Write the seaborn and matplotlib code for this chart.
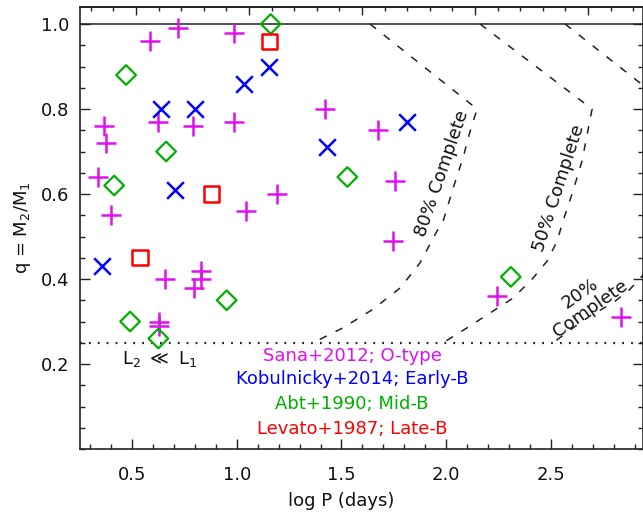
import numpy as np
import pandas as pd
import matplotlib
matplotlib.use("Agg")
import matplotlib.pyplot as plt
from matplotlib.ticker import MultipleLocator, NullFormatter, FormatStrFormatter
import seaborn as sns

# ---------------- data ----------------
sana_logp = [0.586, 0.718, 0.987, 1.421, 0.368, 0.376, 0.626, 0.790, 0.989, 0.338,
             0.400, 1.043, 1.191, 1.676, 1.756, 1.748, 2.240, 2.833, 0.658, 0.828,
             0.828, 0.796, 0.630, 0.630]
sana_q = [0.96, 0.99, 0.98, 0.80, 0.76, 0.72, 0.77, 0.76, 0.77, 0.64,
          0.55, 0.56, 0.60, 0.75, 0.63, 0.49, 0.36, 0.31, 0.40, 0.42,
          0.40, 0.38, 0.30, 0.29]

kob_logp = [0.639, 0.801, 1.036, 1.156, 1.430, 0.705, 0.356, 1.811]
kob_q = [0.80, 0.80, 0.86, 0.90, 0.71, 0.61, 0.43, 0.77]

abt_logp = [1.162, 0.472, 0.663, 0.415, 1.528, 0.491, 0.626, 0.952, 2.308]
abt_q = [1.00, 0.88, 0.70, 0.62, 0.64, 0.30, 0.26, 0.35, 0.405]

lev_logp = [1.156, 0.881, 0.538]
lev_q = [0.958, 0.60, 0.45]

c80_logp = [1.636, 2.147, 2.114, 2.080, 2.033, 1.985, 1.956, 1.875, 1.780, 1.651, 1.507, 1.364]
c80_q = [1.00, 0.80, 0.748, 0.685, 0.614, 0.536, 0.513, 0.438, 0.379, 0.329, 0.285, 0.25]

c50_logp = [2.161, 2.696, 2.648, 2.605, 2.557, 2.529, 2.481, 2.414, 2.319, 2.209, 2.099, 1.985]
c50_q = [1.00, 0.80, 0.678, 0.607, 0.536, 0.489, 0.442, 0.402, 0.355, 0.320, 0.285, 0.25]

c20_logp = [2.567, 3.083, 3.060, 3.020, 2.980, 2.940, 2.877, 2.796, 2.686, 2.605, 2.510]
c20_q = [1.00, 0.80, 0.70, 0.60, 0.50, 0.41, 0.376, 0.344, 0.313, 0.285, 0.25]

Q_MAX = 1.0
Q_LUM = 0.25

legend_labels = ["Sana+2012; O-type", "Kobulnicky+2014; Early-B",
                 "Abt+1990; Mid-B", "Levato+1987; Late-B"]
xtick_vals = [0.5, 1.0, 1.5, 2.0, 2.5]
ytick_vals = [0.2, 0.4, 0.6, 0.8, 1.0]

MAG = '#e010f0'
BLUE = '#0000ff'
GREEN = '#00b000'
RED = '#ff0000'
INK = '#111111'

# ---------------- style ----------------
sns.set_style("ticks")
plt.rcParams['font.family'] = ['DejaVu Sans']
plt.rcParams['mathtext.default'] = 'regular'
plt.rcParams['axes.edgecolor'] = '#222222'
plt.rcParams['text.color'] = INK
plt.rcParams['axes.labelcolor'] = INK
plt.rcParams['xtick.labelcolor'] = INK
plt.rcParams['ytick.labelcolor'] = INK

fig = plt.figure(figsize=(6.43, 5.14), dpi=100)
ax = fig.add_axes([80/643, 65/514, 563/643, 442/514])

# reference lines
ax.axhline(Q_MAX, color='#222222', lw=1.1, zorder=1)
ax.axhline(Q_LUM, color='#222222', lw=1.6, ls=(0, (0.8, 3.2)), zorder=1)

# completeness curves
for cx, cy in [(c80_logp, c80_q), (c50_logp, c50_q), (c20_logp, c20_q)]:
    sns.lineplot(x=cx, y=cy, sort=False, estimator=None, errorbar=None,
                 color='#222222', lw=1.1, linestyle=(0, (5.0, 6.5)),
                 legend=False, ax=ax, zorder=1)

# data points
sns.scatterplot(x=sana_logp, y=sana_q, marker='+', s=14**2, color=MAG,
                linewidth=1.8, ax=ax, zorder=3, legend=False)
sns.scatterplot(x=kob_logp, y=kob_q, marker='x', s=12**2, color=BLUE,
                linewidth=1.8, ax=ax, zorder=3, legend=False)
sns.scatterplot(x=abt_logp, y=abt_q, marker='D', s=10**2, color=GREEN,
                facecolor='none', edgecolor=GREEN, linewidth=1.6, ax=ax,
                zorder=3, legend=False)
sns.scatterplot(x=lev_logp, y=lev_q, marker='s', s=11**2, color=RED,
                facecolor='none', edgecolor=RED, linewidth=1.8, ax=ax,
                zorder=3, legend=False)

# limits & ticks
ax.set_xlim(0.252, 2.939)
ax.set_ylim(0.0, 1.04)
ax.set_xticks(xtick_vals)
ax.set_yticks(ytick_vals)
ax.xaxis.set_major_formatter(FormatStrFormatter('%.1f'))
ax.yaxis.set_major_formatter(FormatStrFormatter('%.1f'))
ax.xaxis.set_minor_locator(MultipleLocator(0.1))
ax.yaxis.set_minor_locator(MultipleLocator(0.05))
ax.tick_params(which='both', direction='in', bottom=True, left=True, right=True,
               top=False, labelright=False, labeltop=False, width=1.0,
               color='#222222', labelsize=13, labelcolor=INK)
ax.tick_params(which='major', length=7.5)
ax.tick_params(which='minor', length=3.8)
ax.tick_params(axis='x', which='major', pad=12)
ax.tick_params(axis='y', which='major', pad=8)
for sp in ax.spines.values():
    sp.set_linewidth(1.2)

# top axis with its own tick spacing
sec = ax.secondary_xaxis('top', functions=(lambda x: (x - 0.519) / 0.5394,
                                           lambda t: t * 0.5394 + 0.519))
sec.xaxis.set_major_locator(MultipleLocator(1.0))
sec.xaxis.set_minor_locator(MultipleLocator(0.2))
sec.xaxis.set_major_formatter(NullFormatter())
sec.tick_params(which='both', direction='in', width=1.0, color='#222222')
sec.tick_params(which='major', length=6.0)
sec.tick_params(which='minor', length=3.0)
sec.spines['top'].set_linewidth(1.2)

ax.set_xlabel('log P (days)', fontsize=13, color=INK)
ax.xaxis.set_label_coords(0.464, -0.097)
ax.set_ylabel('q = M$_2$/M$_1$', fontsize=13, labelpad=5, color=INK)

# annotations
ax.text(1.978, 0.649, '80% Complete', rotation=71, ha='center', va='center',
        fontsize=13, color=INK, rotation_mode='anchor')
ax.text(2.540, 0.614, '50% Complete', rotation=72, ha='center', va='center',
        fontsize=13, color=INK, rotation_mode='anchor')
ax.text(2.663, 0.348, '20%\nComplete', rotation=35, ha='center', va='center',
        fontsize=13, color=INK, rotation_mode='anchor',
        multialignment='center', linespacing=1.0)
ax.text(0.634, 0.212, 'L$_2$ $\\ll$ L$_1$', ha='center', va='center',
        fontsize=13, color=INK)

leg_colors = [MAG, BLUE, GREEN, RED]
leg_y = [0.219, 0.165, 0.106, 0.047]
for lab, col, yy in zip(legend_labels, leg_colors, leg_y):
    ax.text(1.55, yy, lab, ha='center', va='center', fontsize=13, color=col)

fig.savefig('out.png', dpi=100)
